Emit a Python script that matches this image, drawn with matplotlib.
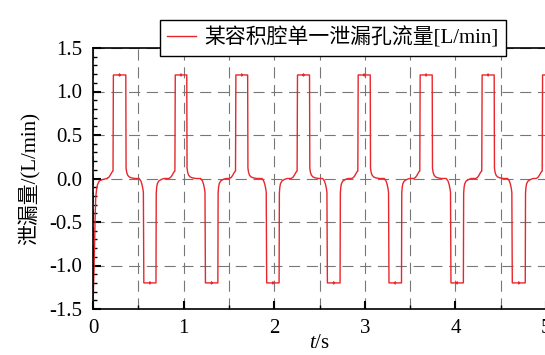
import numpy as np
import matplotlib.pyplot as plt
from matplotlib.ticker import MultipleLocator

plt.rcParams['font.family'] = ['Liberation Serif', 'Noto Sans CJK SC']
plt.rcParams['mathtext.fontset'] = 'custom'
plt.rcParams['mathtext.rm'] = 'Liberation Serif'
plt.rcParams['mathtext.it'] = 'Liberation Serif:italic'

# === DATI letti dal grafico
# transitorio iniziale
t_start = [0.0, 0.006, 0.012, 0.018, 0.023, 0.030, 0.040, 0.050, 0.068, 0.090, 0.120, 0.158]
q_start = [-1.45, -1.25, -1.02, -0.72, -0.47, -0.22, -0.12, -0.07, -0.03, -0.018, -0.008, 0.0]

# istanti dei fronti [s]
pos_rise = [0.223, 0.906, 1.575, 2.255, 2.925, 3.609, 4.293, 4.960]
pos_fall = [0.362, 1.035, 1.707, 2.390, 3.060, 3.744, 4.428, 5.095]
neg_fall = [0.559, 1.239, 1.915, 2.585, 3.265, 3.949, 4.626]
neg_rise = [0.695, 1.378, 2.054, 2.727, 3.405, 4.088, 4.771]

q_top = 1.19
q_bottom = -1.20
q_tick = 0.012

# raccordi attorno ai fronti (offset [s], valore)
pos_pre_dt = [-0.070, -0.050, -0.034, -0.020, -0.009, -0.002]
pos_pre_q = [0.0, 0.012, 0.035, 0.062, 0.080, 0.085]
pos_post_dt = [0.003, 0.010, 0.020, 0.035, 0.060, 0.100]
pos_post_q = [0.12, 0.07, 0.04, 0.02, 0.008, 0.0]
neg_pre_dt = [-0.050, -0.030, -0.018, -0.008, -0.003]
neg_pre_q = [0.0, -0.03, -0.07, -0.12, -0.16]
neg_post_dt = [0.003, 0.008, 0.015, 0.030, 0.060, 0.090]
neg_post_q = [-0.17, -0.10, -0.06, -0.03, -0.01, 0.0]

# === COSTRUZIONE CURVA
t, q = list(t_start), list(q_start)
for i in range(len(pos_rise)):
    r, f = pos_rise[i], pos_fall[i]
    m = (r + f) / 2
    t += [r + d for d in pos_pre_dt]
    q += pos_pre_q
    t += [r + 0.002, m, m, m + 0.001, m + 0.002, f]
    q += [q_top, q_top, q_top + q_tick, q_top - q_tick, q_top, q_top]
    t += [f + d for d in pos_post_dt]
    q += pos_post_q
    if i < len(neg_fall):
        a, b = neg_fall[i], neg_rise[i]
        m = (a + b) / 2
        t += [a + d for d in neg_pre_dt]
        q += neg_pre_q
        t += [a + 0.002, m, m, m + 0.001, m + 0.002, b]
        q += [q_bottom, q_bottom, q_bottom - q_tick, q_bottom + q_tick, q_bottom, q_bottom]
        t += [b + d for d in neg_post_dt]
        q += neg_post_q

# === GRAFICO
fig = plt.figure(figsize=(5.45, 3.55), dpi=100)
ax = fig.add_axes([93 / 545, 46 / 355, 453 / 545, 261 / 355])

line, = ax.plot(t, q, color='#e8262b', lw=1.0, label='某容积腔单一泄漏孔流量[L/min]')

ax.set_xlim(0, 5)
ax.set_ylim(-1.5, 1.5)
ax.xaxis.set_major_locator(MultipleLocator(1))
ax.xaxis.set_minor_locator(MultipleLocator(0.5))
ax.yaxis.set_major_locator(MultipleLocator(0.5))
ax.yaxis.set_minor_locator(MultipleLocator(0.1))
ax.yaxis.set_major_formatter(plt.FormatStrFormatter('%.1f'))

ax.grid(which='major', axis='both', color='#777777', lw=0.8, linestyle=(0, (10, 6)))
ax.grid(which='minor', axis='x', color='#777777', lw=0.8, linestyle=(0, (10, 6)))

ax.tick_params(which='both', direction='in', colors='black', labelsize=15)
ax.tick_params(which='major', length=6, width=1.5)
ax.tick_params(which='minor', length=3, width=1.0)
ax.tick_params(axis='y', pad=8)
ax.tick_params(axis='x', pad=7)
for s in ax.spines.values():
    s.set_linewidth(1.2)

ax.set_ylabel('泄漏量/(L/min)', fontsize=15, labelpad=6)
ax.set_xlabel(r'$t$/s', fontsize=15, labelpad=-3)

leg = fig.legend(handles=[line], loc='upper center', bbox_to_anchor=(0.611, 0.973),
                 fontsize=15, frameon=True, fancybox=False, edgecolor='black',
                 framealpha=1, handlelength=1.4, handletextpad=0.4, borderpad=0.35)
leg.get_frame().set_linewidth(1.0)

fig.savefig('out.png', dpi=100)
